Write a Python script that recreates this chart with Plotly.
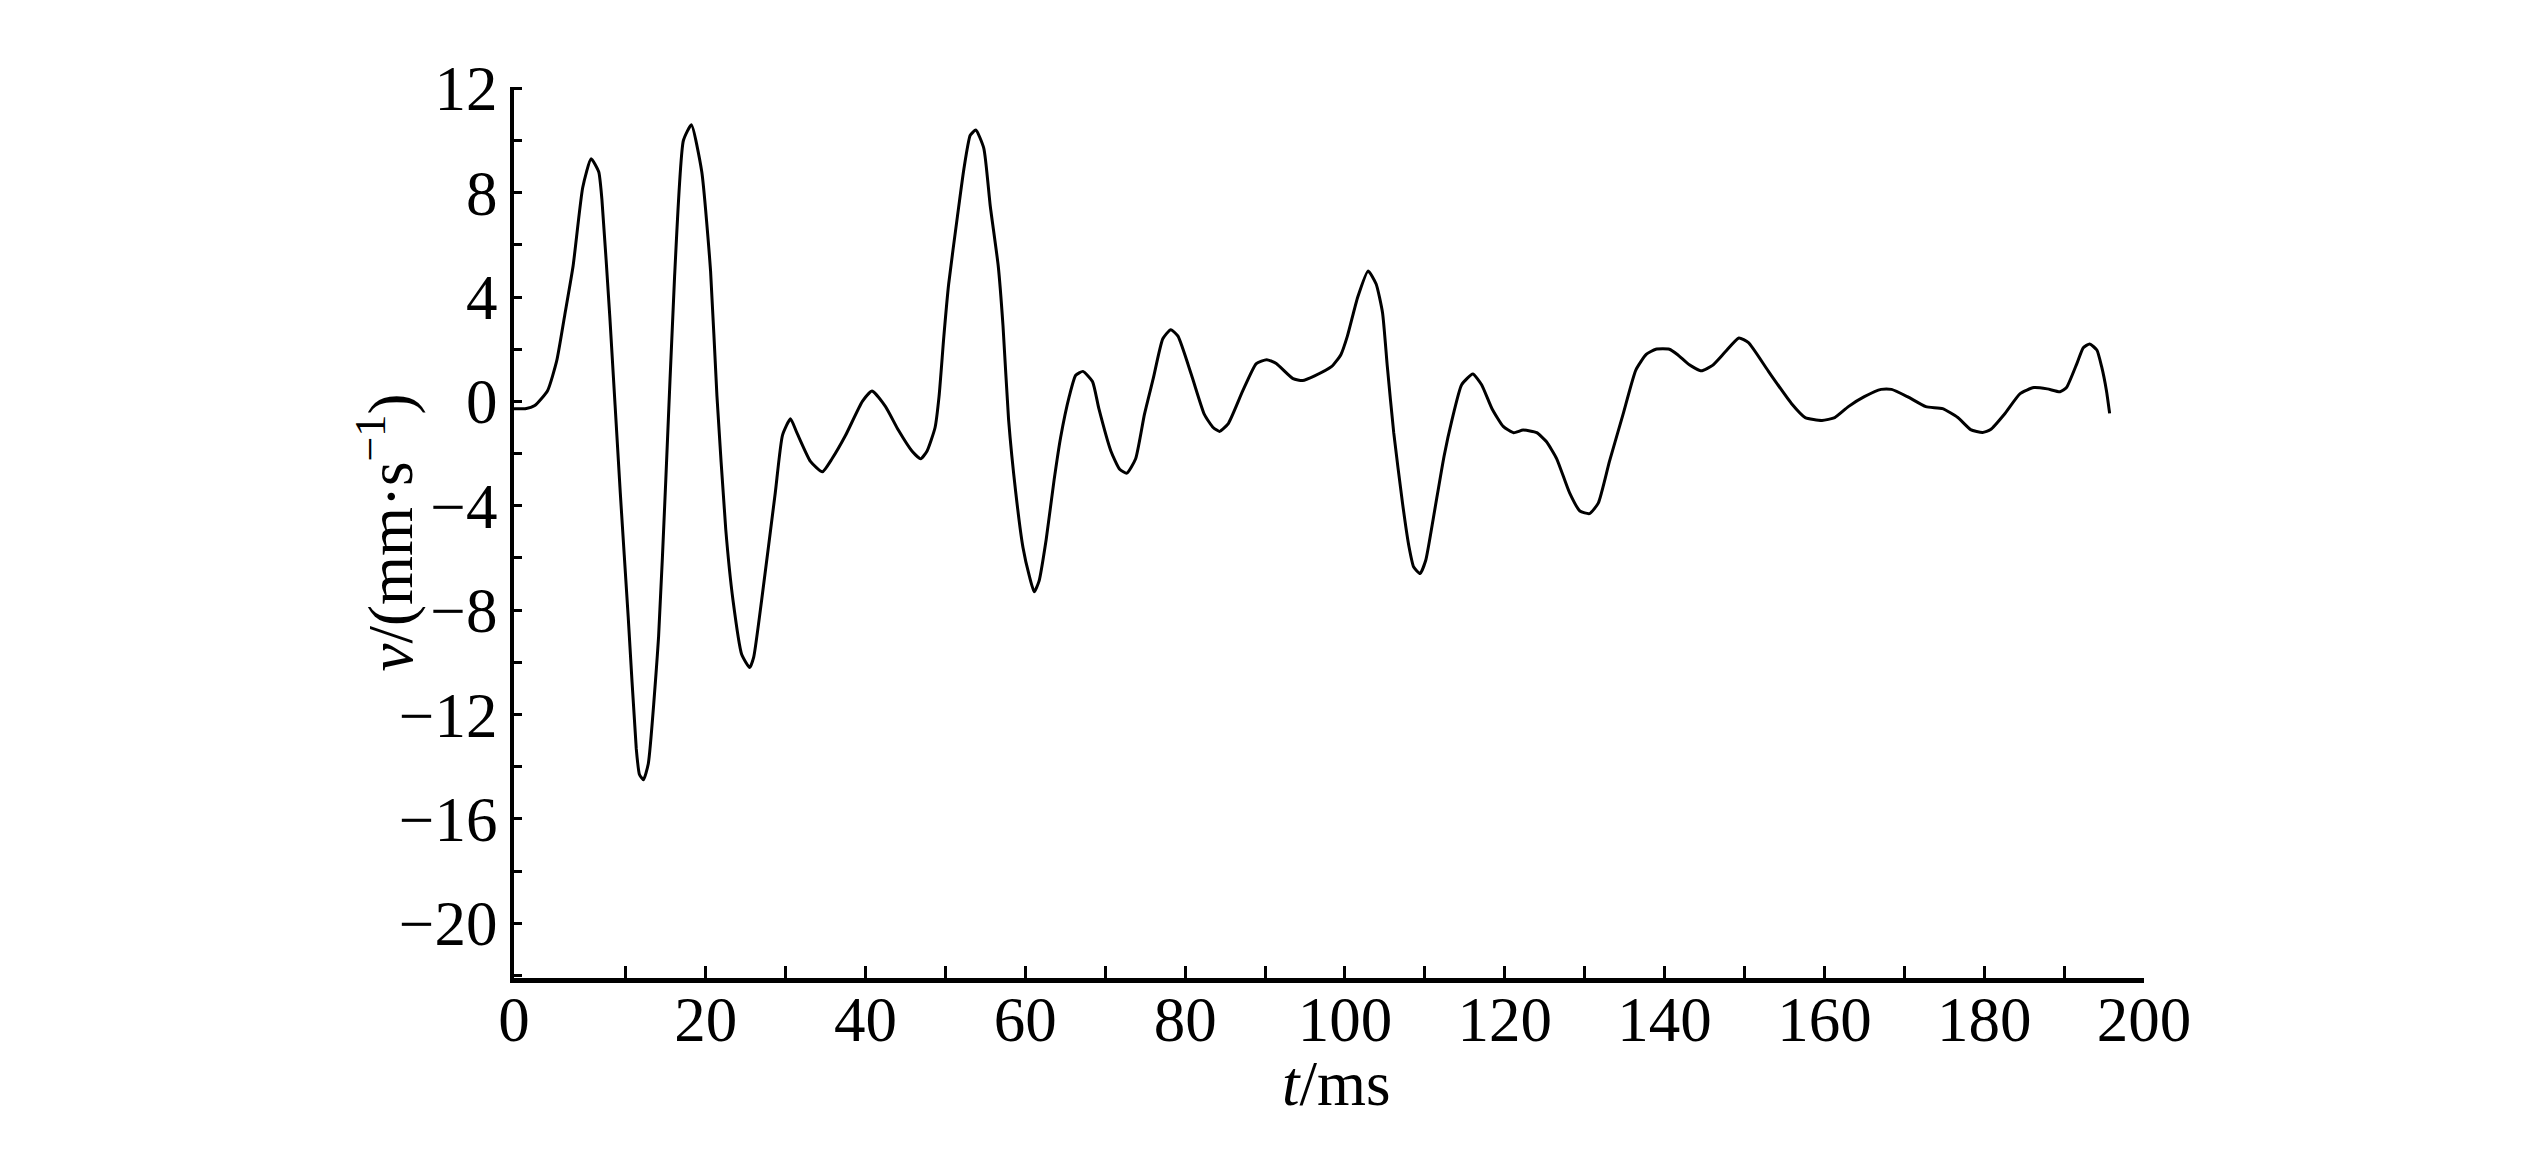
import plotly.graph_objects as go

# time (ms) and velocity (mm/s)
t = [-4.0, -2.6, -1.4, 0.2, 1.35, 2.4, 3.4, 4.6, 5.65, 6.6, 7.0, 8.0, 9.3, 10.3, 11.3, 11.7, 12.2,
     12.8, 14.1, 15.0, 16.1, 17.2, 18.2, 19.5, 20.6, 21.4, 22.5, 23.4, 24.5, 25.5, 26.0, 27.0,
     28.7, 29.6, 30.6, 31.4, 33.1, 34.6, 35.8, 37.5, 39.6, 40.8, 42.5, 44.1, 45.8, 46.9, 47.7,
     48.7, 49.2, 49.8, 50.4, 51.5, 52.3, 53.1, 53.8, 54.8, 55.6, 56.6, 57.2, 57.9, 58.8, 59.7,
     60.5, 61.1, 61.7, 62.6, 63.6, 64.4, 65.5, 66.3, 67.2, 68.4, 69.2, 70.7, 71.8, 72.7, 73.8,
     74.9, 76.0, 77.2, 78.2, 79.1, 80.8, 82.4, 83.5, 84.3, 85.4, 87.2, 88.9, 90.2, 91.4, 93.5,
     94.7, 96.2, 98.3, 99.5, 100.3, 101.6, 102.9, 103.9, 104.7, 105.3, 106.1, 107.2, 108.0,
     108.6, 109.4, 110.1, 111.1, 112.4, 113.4, 114.6, 116.0, 117.1, 118.4, 119.8, 121.1, 122.3,
     124.0, 125.2, 126.5, 128.1, 129.4, 130.6, 131.7, 133.1, 134.8, 136.4, 137.7, 138.9, 140.6,
     141.6, 143.1, 144.6, 146.0, 147.6, 149.3, 150.5, 153.0, 155.9, 157.6, 159.7, 161.3, 163.0,
     165.0, 167.1, 168.4, 170.4, 172.7, 174.8, 176.7, 178.3, 179.8, 180.8, 182.5, 184.5, 186.2,
     187.9, 189.5, 190.3, 191.6, 192.4, 193.2, 194.1, 194.7, 195.3, 195.7]
v = [-0.28, -0.28, -0.16, 0.41, 1.56, 3.4, 5.2, 8.2, 9.3, 8.8, 7.75, 3.2, -3.5, -8.3, -13.3, -14.3,
     -14.5, -13.9, -9.0, -3.0, 4.8, 10.0, 10.6, 8.8, 5.0, 0.2, -4.9, -7.6, -9.7, -10.2, -9.8, -7.6,
     -3.5, -1.3, -0.67, -1.2, -2.3, -2.7, -2.2, -1.3, 0.0, 0.4, -0.2, -1.1, -1.9, -2.2, -1.9,
     -1.0, 0.2, 2.5, 4.5, 7.1, 8.9, 10.2, 10.4, 9.7, 7.5, 5.2, 2.9, -0.7, -3.5, -5.6,
     -6.7, -7.3, -6.9, -5.3, -3.0, -1.4, 0.2, 1.0, 1.15, 0.76, -0.28, -1.9, -2.6, -2.75, -2.2,
     -0.5, 0.87, 2.4, 2.75, 2.5, 1.0, -0.5, -1.0, -1.15, -0.85, 0.4, 1.45, 1.6, 1.45, 0.87,
     0.8, 0.98, 1.33, 1.8, 2.5, 4.0, 5.0, 4.5, 3.4, 1.33, -1.2, -3.9, -5.55,
     -6.35, -6.6, -6.1, -4.4, -2.1, -0.7, 0.64, 1.05, 0.64, -0.28, -0.96, -1.2, -1.1,
     -1.2, -1.54, -2.2, -3.5, -4.2, -4.3, -3.9, -2.3, -0.5, 1.2, 1.8, 2.0, 2.0,
     1.8, 1.4, 1.17, 1.38, 1.9, 2.43, 2.25, 1.15, -0.09, -0.62, -0.73, -0.62, -0.2,
     0.18, 0.46, 0.46, 0.18, -0.2, -0.28, -0.62, -1.08, -1.19, -1.08, -0.5, 0.3, 0.53,
     0.48, 0.37, 0.53, 1.45, 2.06, 2.2, 1.97, 1.33, 0.41, -0.46]

x_label_vals = [-4, 20, 40, 60, 80, 100, 120, 140, 160, 180, 200]
x_label_text = ["0", "20", "40", "60", "80", "100", "120", "140", "160", "180", "200"]
x_minor_vals = [10, 30, 50, 70, 90, 110, 130, 150, 170, 190]

x_title = "<i>t</i>/ms"
y_title = "<i>v</i>/(mm·s<sup>−1</sup>)"

FONT = "Liberation Serif"
FS = 63

fig = go.Figure()
fig.add_trace(go.Scatter(x=t, y=v, mode="lines",
                         line=dict(color="black", width=3, shape="spline", smoothing=0.5),
                         showlegend=False, hoverinfo="skip"))

# page body adds an 8px margin, so the figure is offset accordingly
fig.update_layout(
    width=2519, height=1153,
    margin=dict(l=506, r=383, t=79, b=183, autoexpand=False),
    paper_bgcolor="white", plot_bgcolor="white",
    font=dict(family=FONT, size=FS, color="black"),
)
fig.update_xaxes(
    range=[-4, 200], showgrid=False, zeroline=False,
    showline=True, linecolor="black", linewidth=5,
    tickmode="array", tickvals=x_label_vals, ticktext=x_label_text,
    ticks="inside", ticklen=12, tickwidth=3, tickcolor="black",
    minor=dict(tickmode="array", tickvals=x_minor_vals, ticks="inside",
               ticklen=12, tickwidth=3, tickcolor="black", showgrid=False),
    tickfont=dict(family=FONT, size=FS),
    ticklabelstandoff=-18,
    automargin=False,
)
fig.update_yaxes(
    range=[-22.1, 12.05], showgrid=False, zeroline=False,
    showline=True, linecolor="black", linewidth=4,
    tickmode="linear", tick0=0, dtick=4,
    ticks="inside", ticklen=8, tickwidth=3, tickcolor="black",
    minor=dict(tick0=0, dtick=2, ticks="inside", ticklen=8, tickwidth=3,
               tickcolor="black", showgrid=False),
    tickfont=dict(family=FONT, size=FS),
    ticklabelstandoff=0,
    automargin=False,
)

fig.add_annotation(text=x_title, xref="paper", yref="paper", x=0.5, y=0,
                   xanchor="center", yanchor="middle", xshift=7, yshift=-106,
                   showarrow=False, font=dict(family=FONT, size=FS))
fig.add_annotation(text=y_title, xref="paper", yref="paper", x=0, y=0.5,
                   xanchor="center", yanchor="middle", xshift=-128, textangle=-90,
                   showarrow=False, font=dict(family=FONT, size=FS))

fig.write_html("out.html")
